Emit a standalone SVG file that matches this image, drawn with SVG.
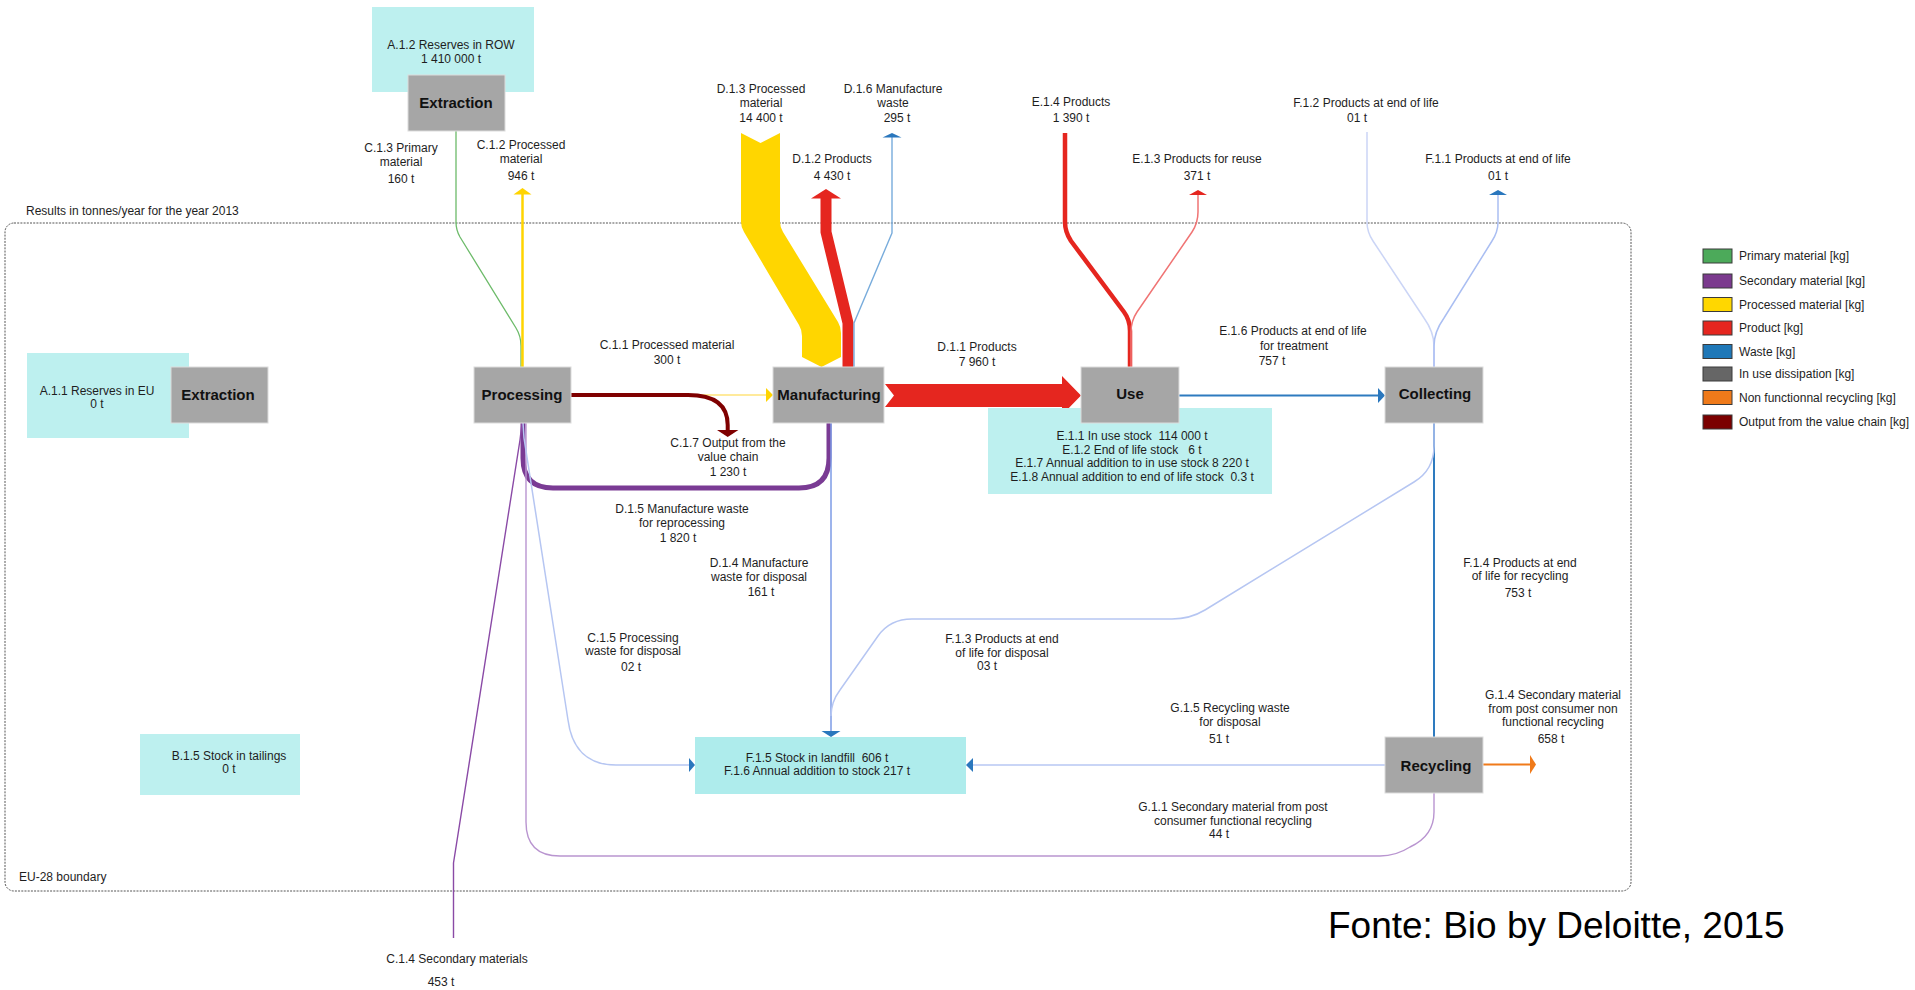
<svg xmlns="http://www.w3.org/2000/svg" width="1915" height="990" viewBox="0 0 1915 990">
  <style>
    text { font-family: "Liberation Sans", Arial, sans-serif; font-size: 12px; fill: #1e1e1e; }
    .c { text-anchor: middle; }
    .node-label { font-size: 15px; font-weight: bold; text-anchor: middle; fill: #111; }
    .proc { fill: #a6a6a6; stroke: #dcdcdc; stroke-width: 1; }
    .stock { fill: #bdf0ef; }
    .line { fill: none; stroke-linejoin: round; }
    .head-blue { fill: #2a77bd; }
    .swatch { stroke: #3a3a3a; stroke-width: 1; }
  </style>

  <!-- EU-28 system boundary -->
  <g id="boundary">
    <rect x="5" y="223" width="1626" height="668" rx="9" fill="none" stroke="#555" stroke-width="1" stroke-dasharray="2 1.2"/>
    <text x="26" y="215">Results in tonnes/year for the year 2013</text>
    <text x="19" y="881">EU-28 boundary</text>
  </g>

  <!-- flows -->
  <g id="connectors">
    <!-- C.1.3 primary material -->
    <path class="line" d="M456,131 L456,222 Q456,230 460,237 L516,328 Q521,336 521,346 L521,367" stroke="#6dbb6a" stroke-width="1.3"/>
    <!-- C.1.2 processed material out -->
    <path class="line" d="M522.5,367 L522.5,193" stroke="#ffd400" stroke-width="2.5"/>
    <polygon points="513.5,194.5 522.5,188 531.5,194.5" fill="#ffd400"/>
    <!-- C.1.1 processed material to manufacturing -->
    <path class="line" d="M571,395 L767,395" stroke="#ffe37a" stroke-width="1.5"/>
    <polygon points="766,388 773,395 766,402" fill="#ffd400"/>
    <!-- C.1.7 output from the value chain -->
    <path class="line" d="M571,395 L688,395 Q727.7,395 727.7,425 L727.7,431" stroke="#7f0000" stroke-width="4"/>
    <polygon points="717,430 727.7,437 738.4,430" fill="#7f0000"/>
    <!-- D.1.5 manufacture waste for reprocessing -->
    <path class="line" d="M829,423 L829,458 Q829,488 799,488 L553,488 Q523,488 523,458 L523,423" stroke="#7a3b94" stroke-width="5"/>
    <!-- C.1.4 secondary materials -->
    <path class="line" d="M453.5,938 L453.5,863 L520,440 L522,423" stroke="#8a4aa6" stroke-width="1.4"/>
    <!-- G.1.1 secondary material from functional recycling -->
    <path class="line" d="M1434,793 L1434,812 Q1434,836 1410,847 Q1396,856 1380,856 L560,856 Q526,856 526,822 L526,423" stroke="#b995d0" stroke-width="1.4"/>
    <!-- C.1.5 processing waste for disposal -->
    <path class="line" d="M523,423 L524,438 L568,720 Q574,765 616,765 L690,765" stroke="#b6c6f2" stroke-width="1.5"/>
    <polygon points="689,758 695,765 689,772" class="head-blue"/>
    <!-- D.1.3 processed material into manufacturing -->
    <path d="M741,133 L760.5,143 L780,133 L780,222 Q780,227 783,232 L838,322 Q841,327 841,333 L841,357 L821.5,367 L802,357 L802,336 Q802,330 799,325 L744,232 Q741,227 741,222 Z" fill="#ffd600"/>
    <!-- D.1.2 products out -->
    <path class="line" d="M848,367 L848,323 L826,232 L826,197" stroke="#e5261f" stroke-width="11" stroke-linejoin="miter"/>
    <polygon points="811,198.5 826,189 841,198.5" fill="#e5261f"/>
    <!-- D.1.6 manufacture waste out -->
    <path class="line" d="M854,367 L854,323 L892,233 L892,136" stroke="#78acdc" stroke-width="1.4"/>
    <polygon points="882.5,137.5 892,133 901.5,137.5" class="head-blue"/>
    <!-- D.1.4 manufacture waste for disposal -->
    <path class="line" d="M831,423 L831,732" stroke="#7d9be6" stroke-width="1.5"/>
    <polygon points="821.5,731 831,737 840.5,731" class="head-blue"/>
    <!-- D.1.1 products to use -->
    <polygon points="885,384 1062,384 1062,376 1081,395.5 1062,415 1062,407 885,407 894,395.5" fill="#e5261f"/>
    <!-- E.1.4 products in -->
    <path class="line" d="M1065,133 L1065,222 Q1065,232 1071,241 L1124,312 Q1130,320 1130,331 L1130,367" stroke="#e5261f" stroke-width="4.5"/>
    <!-- E.1.3 products for reuse -->
    <path class="line" d="M1131,367 L1131,332 Q1131,321 1137,312 L1192,232 Q1198,223 1198,212 L1198,194" stroke="#f07474" stroke-width="1.5"/>
    <polygon points="1189,195 1198,190 1207,195" fill="#e5261f"/>
    <!-- E.1.6 products at end of life for treatment -->
    <path class="line" d="M1179,395.5 L1379,395.5" stroke="#2e7bbf" stroke-width="2"/>
    <polygon points="1378,388 1385,395.5 1378,403" class="head-blue"/>
    <!-- F.1.2 products at end of life in -->
    <path class="line" d="M1367,132 L1367,222 Q1367,232 1373,241 L1424,318 Q1434,332 1434,346 L1434,367" stroke="#cbd5f6" stroke-width="1.5"/>
    <!-- F.1.1 products at end of life out -->
    <path class="line" d="M1434,367 L1434,346 Q1434,332 1444,318 L1492,241 Q1498,232 1498,222 L1498,194" stroke="#aabef2" stroke-width="1.5"/>
    <polygon points="1489,195 1498,190 1507,195" class="head-blue"/>
    <!-- F.1.4 products at end of life for recycling -->
    <path class="line" d="M1434,423 L1434,737" stroke="#2e7bbf" stroke-width="2"/>
    <!-- F.1.3 products at end of life for disposal -->
    <path class="line" d="M1434,423 L1434,446 Q1434,470 1414,482 L1205,610 Q1190,619 1172,619 L912,619 Q890,619 878,636 L840,690 Q831,702 831,716" stroke="#b6c6f2" stroke-width="1.5"/>
    <!-- G.1.5 recycling waste for disposal -->
    <path class="line" d="M1385,765 L972,765" stroke="#c9d5f6" stroke-width="2"/>
    <polygon points="973,758 966,765 973,772" class="head-blue"/>
    <!-- G.1.4 non functional recycling -->
    <path class="line" d="M1483,764.5 L1531,764.5" stroke="#f07a1a" stroke-width="2"/>
    <polygon points="1530,755 1536,764.5 1530,774" fill="#f07a1a"/>
  </g>

  <!-- flow labels -->
  <g id="flow-labels">
    <text class="c" x="401" y="152">C.1.3 Primary</text>
    <text class="c" x="401" y="166">material</text>
    <text class="c" x="401" y="183">160 t</text>
    <text class="c" x="521" y="149">C.1.2 Processed</text>
    <text class="c" x="521" y="163">material</text>
    <text class="c" x="521" y="180">946 t</text>
    <text class="c" x="761" y="93">D.1.3 Processed</text>
    <text class="c" x="761" y="106.5">material</text>
    <text class="c" x="761" y="122">14 400 t</text>
    <text class="c" x="893" y="93">D.1.6 Manufacture</text>
    <text class="c" x="893" y="106.5">waste</text>
    <text class="c" x="897" y="122">295 t</text>
    <text class="c" x="832" y="163">D.1.2 Products</text>
    <text class="c" x="832" y="180">4 430 t</text>
    <text class="c" x="1071" y="106">E.1.4 Products</text>
    <text class="c" x="1071" y="122">1 390 t</text>
    <text class="c" x="1197" y="163">E.1.3 Products for reuse</text>
    <text class="c" x="1197" y="180">371 t</text>
    <text class="c" x="1366" y="107">F.1.2 Products at end of life</text>
    <text class="c" x="1357" y="122">01 t</text>
    <text class="c" x="1498" y="163">F.1.1 Products at end of life</text>
    <text class="c" x="1498" y="180">01 t</text>
    <text class="c" x="667" y="349">C.1.1 Processed material</text>
    <text class="c" x="667" y="364">300 t</text>
    <text class="c" x="977" y="351">D.1.1 Products</text>
    <text class="c" x="977" y="366">7 960 t</text>
    <text class="c" x="1293" y="335">E.1.6 Products at end of life</text>
    <text class="c" x="1294" y="350">for treatment</text>
    <text class="c" x="1272" y="365">757 t</text>
    <text class="c" x="728" y="447">C.1.7 Output from the</text>
    <text class="c" x="728" y="461">value chain</text>
    <text class="c" x="728" y="476">1 230 t</text>
    <text class="c" x="682" y="513">D.1.5 Manufacture waste</text>
    <text class="c" x="682" y="527">for reprocessing</text>
    <text class="c" x="678" y="542">1 820 t</text>
    <text class="c" x="759" y="567">D.1.4 Manufacture</text>
    <text class="c" x="759" y="581">waste for disposal</text>
    <text class="c" x="761" y="596">161 t</text>
    <text class="c" x="633" y="642">C.1.5 Processing</text>
    <text class="c" x="633" y="655">waste for disposal</text>
    <text class="c" x="631" y="671">02 t</text>
    <text class="c" x="1002" y="643">F.1.3 Products at end</text>
    <text class="c" x="1002" y="657">of life for disposal</text>
    <text class="c" x="987" y="670">03 t</text>
    <text class="c" x="1520" y="567">F.1.4 Products at end</text>
    <text class="c" x="1520" y="580">of life for recycling</text>
    <text class="c" x="1518" y="597">753 t</text>
    <text class="c" x="1230" y="712">G.1.5 Recycling waste</text>
    <text class="c" x="1230" y="726">for disposal</text>
    <text class="c" x="1219" y="743">51 t</text>
    <text class="c" x="1553" y="699">G.1.4 Secondary material</text>
    <text class="c" x="1553" y="713">from post consumer non</text>
    <text class="c" x="1553" y="726">functional recycling</text>
    <text class="c" x="1551" y="743">658 t</text>
    <text class="c" x="1233" y="811">G.1.1 Secondary material from post</text>
    <text class="c" x="1233" y="825">consumer functional recycling</text>
    <text class="c" x="1219" y="838">44 t</text>
    <text class="c" x="457" y="963">C.1.4 Secondary materials</text>
    <text class="c" x="441" y="986">453 t</text>
  </g>

  <!-- stocks and processes -->
  <g id="reserves-row">
    <rect class="stock" x="372" y="7" width="162" height="85"/>
    <text class="c" x="451" y="49">A.1.2 Reserves in ROW</text>
    <text class="c" x="451" y="63">1 410 000 t</text>
  </g>
  <g id="extraction-row">
    <rect class="proc" x="408" y="75" width="97" height="56"/>
    <text class="node-label" x="456" y="108">Extraction</text>
  </g>
  <g id="reserves-eu">
    <rect class="stock" x="27" y="353" width="162" height="85"/>
    <text class="c" x="97" y="395">A.1.1 Reserves in EU</text>
    <text class="c" x="97" y="408">0 t</text>
  </g>
  <g id="extraction-eu">
    <rect class="proc" x="171" y="367" width="97" height="56"/>
    <text class="node-label" x="218" y="400">Extraction</text>
  </g>
  <g id="processing">
    <rect class="proc" x="474" y="367" width="97" height="56"/>
    <text class="node-label" x="522" y="400">Processing</text>
  </g>
  <g id="manufacturing">
    <rect class="proc" x="773" y="367" width="111" height="56"/>
    <text class="node-label" x="829" y="400">Manufacturing</text>
  </g>
  <g id="use-stock">
    <rect class="stock" x="988" y="408" width="284" height="86"/>
    <text class="c" x="1132" y="440" xml:space="preserve">E.1.1 In use stock  114 000 t</text>
    <text class="c" x="1132" y="453.5" xml:space="preserve">E.1.2 End of life stock   6 t</text>
    <text class="c" x="1132" y="467">E.1.7 Annual addition to in use stock 8 220 t</text>
    <text class="c" x="1132" y="480.5" xml:space="preserve">E.1.8 Annual addition to end of life stock  0.3 t</text>
  </g>
  <g id="use">
    <rect class="proc" x="1081" y="367" width="98" height="56"/>
    <text class="node-label" x="1130" y="399">Use</text>
  </g>
  <g id="collecting">
    <rect class="proc" x="1385" y="367" width="98" height="56"/>
    <text class="node-label" x="1435" y="399">Collecting</text>
  </g>
  <g id="tailings">
    <rect class="stock" x="140" y="734" width="160" height="61"/>
    <text class="c" x="229" y="760">B.1.5 Stock in tailings</text>
    <text class="c" x="229" y="773">0 t</text>
  </g>
  <g id="landfill">
    <rect x="695" y="737" width="271" height="57" fill="#aeecec"/>
    <text class="c" x="817" y="762" xml:space="preserve">F.1.5 Stock in landfill  606 t</text>
    <text class="c" x="817" y="775">F.1.6 Annual addition to stock 217 t</text>
  </g>
  <g id="recycling">
    <rect class="proc" x="1385" y="737" width="98" height="56"/>
    <text class="node-label" x="1436" y="771">Recycling</text>
  </g>

  <!-- legend -->
  <g id="legend">
    <rect class="swatch" x="1703" y="249" width="29" height="14" fill="#4caa5a"/>
    <text x="1739" y="260">Primary material [kg]</text>
    <rect class="swatch" x="1703" y="274" width="29" height="14" fill="#7b3a8e"/>
    <text x="1739" y="285">Secondary material [kg]</text>
    <rect class="swatch" x="1703" y="297.5" width="29" height="14" fill="#ffd700"/>
    <text x="1739" y="308.5">Processed material [kg]</text>
    <rect class="swatch" x="1703" y="321" width="29" height="14" fill="#e5261f"/>
    <text x="1739" y="332">Product [kg]</text>
    <rect class="swatch" x="1703" y="344.5" width="29" height="14" fill="#1f78b8"/>
    <text x="1739" y="355.5">Waste [kg]</text>
    <rect class="swatch" x="1703" y="367" width="29" height="14" fill="#666666"/>
    <text x="1739" y="378">In use dissipation [kg]</text>
    <rect class="swatch" x="1703" y="390.5" width="29" height="14" fill="#ef7a1a"/>
    <text x="1739" y="401.5">Non functionnal recycling [kg]</text>
    <rect class="swatch" x="1703" y="415" width="29" height="14" fill="#7b0000"/>
    <text x="1739" y="426">Output from the value chain [kg]</text>
  </g>

  <g id="source">
    <text x="1328" y="938" style="font-size:37px;fill:#000">Fonte: Bio by Deloitte, 2015</text>
  </g>
</svg>
